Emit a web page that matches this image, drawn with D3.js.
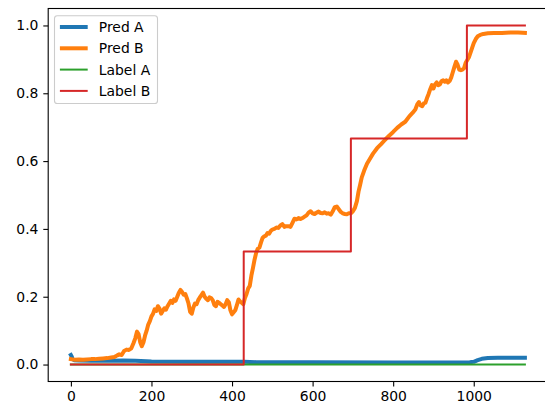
<!DOCTYPE html>
<html>
<head>
<meta charset="utf-8">
<script src="https://cdn.jsdelivr.net/npm/d3@7"></script>
<style>
  html, body { margin: 0; padding: 0; background: #fff; }
  svg { display: block; font-family: "DejaVu Sans", sans-serif; }
</style>
</head>
<body>
<svg id="chart" width="545" height="407"></svg>
<script>
// Prediction B (probability) sampled along the sequence index
const predBX = [0,10,20,30,40,50,60,70,80,90,100,108,115,120,126,132,138,144,150,155,160,164,168,172,176,180,184,188,192,196,200,204,208,212,216,220,224,228,232,236,240,244,248,252,256,260,264,268,272,276,280,284,288,292,296,300,304,308,312,316,320,324,328,332,336,340,344,348,352,356,360,364,368,372,376,380,384,388,392,396,400,404,408,412,416,420,424,428,432,436,440,444,448,452,456,460,464,468,472,476,480,484,488,492,496,500,505,510,515,520,525,530,535,540,545,550,555,560,565,570,575,580,585,590,595,600,605,610,615,620,625,630,635,640,645,650,655,660,665,670,675,680,685,690,695,700,705,710,714,718,722,728,735,742,750,760,770,780,790,800,810,820,830,840,848,855,860,864,868,872,876,880,884,888,892,896,900,904,908,912,916,920,924,928,932,936,940,944,948,952,956,960,964,968,972,976,980,984,988,992,996,1000,1005,1010,1016,1024,1035,1050,1070,1090,1110,1127];
const predBY = [0.016,0.014,0.015,0.014,0.015,0.016,0.016,0.017,0.018,0.019,0.021,0.022,0.027,0.030,0.028,0.040,0.044,0.043,0.048,0.062,0.078,0.097,0.090,0.066,0.054,0.065,0.085,0.100,0.118,0.128,0.142,0.150,0.163,0.158,0.172,0.165,0.150,0.158,0.166,0.162,0.172,0.180,0.188,0.182,0.192,0.188,0.200,0.212,0.220,0.214,0.206,0.208,0.195,0.180,0.155,0.150,0.168,0.180,0.178,0.190,0.198,0.205,0.212,0.200,0.194,0.190,0.198,0.196,0.190,0.176,0.172,0.185,0.182,0.178,0.174,0.170,0.178,0.190,0.184,0.160,0.148,0.154,0.160,0.175,0.192,0.186,0.182,0.178,0.196,0.208,0.224,0.232,0.262,0.285,0.310,0.330,0.342,0.345,0.360,0.374,0.378,0.380,0.388,0.386,0.394,0.398,0.400,0.404,0.403,0.410,0.414,0.406,0.408,0.408,0.406,0.418,0.430,0.428,0.432,0.429,0.432,0.436,0.440,0.448,0.452,0.446,0.444,0.448,0.451,0.447,0.446,0.449,0.445,0.446,0.442,0.452,0.464,0.466,0.458,0.450,0.446,0.444,0.443,0.446,0.446,0.452,0.462,0.482,0.510,0.530,0.552,0.572,0.592,0.606,0.622,0.638,0.650,0.663,0.675,0.686,0.698,0.708,0.716,0.732,0.742,0.752,0.768,0.774,0.764,0.762,0.770,0.772,0.786,0.798,0.812,0.824,0.814,0.826,0.832,0.824,0.826,0.836,0.838,0.834,0.838,0.832,0.836,0.846,0.862,0.878,0.893,0.884,0.870,0.868,0.870,0.874,0.890,0.898,0.906,0.920,0.934,0.948,0.960,0.968,0.972,0.975,0.977,0.978,0.978,0.979,0.979,0.978];

// Prediction A (probability)
const predAX = [0,2,4,8,20,50,100,130,160,200,300,400,430,460,600,800,950,990,1000,1010,1020,1035,1060,1127];
const predAY = [0.028,0.024,0.016,0.013,0.012,0.011,0.011,0.012,0.011,0.009,0.008,0.008,0.008,0.007,0.007,0.006,0.006,0.007,0.008,0.013,0.017,0.019,0.020,0.020];

// Label A is zero over the whole sequence
const labelAX = [0, 1127];
const labelAY = [0, 0];

// Label B is piecewise constant: start index of each level and its value
const labelBStart = [0, 429, 695, 983];
const labelBValue = [0, 1/3, 2/3, 1];
const lastIndex = 1127;

const xTicks = [0, 200, 400, 600, 800, 1000];
const yTicks = [0.0, 0.2, 0.4, 0.6, 0.8, 1.0];

const seriesNames = ["Pred A", "Pred B", "Label A", "Label B"];
const seriesColors = ["#1f77b4", "#ff7f0e", "#2ca02c", "#d62728"];
const seriesWidths = [4, 4, 2, 2];

// Plot frame
const plotLeft = 48.2, plotTop = 8.5, plotRight = 547.6, plotBottom = 381.5;
const fs = 13.9;

const svg = d3.select("#chart");

const xPad = 0.05 * lastIndex;
const x = d3.scaleLinear().domain([-xPad, lastIndex + xPad]).range([plotLeft, plotRight]);
const y = d3.scaleLinear().domain([-0.05, 1.05]).range([plotBottom, plotTop]);

const zip = (xs, ys) => xs.map((v, i) => [v, ys[i]]);

const labelBPts = [];
labelBStart.forEach((s, i) => {
  const e = i < labelBStart.length - 1 ? labelBStart[i + 1] : lastIndex;
  labelBPts.push([s, labelBValue[i]]);
  labelBPts.push([e, labelBValue[i]]);
});

const series = [
  zip(predAX, predAY),
  zip(predBX, predBY),
  zip(labelAX, labelAY),
  labelBPts
];

const line = d3.line().x(d => x(d[0])).y(d => y(d[1]));

series.forEach((pts, i) => {
  svg.append("path")
    .datum(pts)
    .attr("d", line)
    .attr("fill", "none")
    .attr("stroke", seriesColors[i])
    .attr("stroke-width", seriesWidths[i])
    .attr("stroke-linejoin", "round")
    .attr("stroke-linecap", "square");
});

// Axes
const xAxis = d3.axisBottom(x).tickValues(xTicks).tickSize(4.9).tickPadding(4.9).tickFormat(d3.format("d"));
const yAxis = d3.axisLeft(y).tickValues(yTicks).tickSize(4.9).tickPadding(4.9).tickFormat(d3.format(".1f"));

const gx = svg.append("g").attr("transform", `translate(0,${plotBottom})`).call(xAxis);
const gy = svg.append("g").attr("transform", `translate(${plotLeft},0)`).call(yAxis);

[gx, gy].forEach(g => {
  g.select(".domain").remove();
  g.selectAll(".tick line").attr("stroke", "#000").attr("stroke-width", 1.1);
  g.selectAll(".tick text")
    .attr("fill", "#000")
    .attr("font-size", fs)
    .attr("font-family", "DejaVu Sans, sans-serif");
});

// Spines
svg.append("rect")
  .attr("x", plotLeft).attr("y", plotTop)
  .attr("width", plotRight - plotLeft).attr("height", plotBottom - plotTop)
  .attr("fill", "none").attr("stroke", "#000").attr("stroke-width", 1.1);

// Legend
const lg = svg.append("g");
lg.append("rect")
  .attr("x", 54.5).attr("y", 15.7)
  .attr("width", 103).attr("height", 87.8)
  .attr("rx", 2.8).attr("ry", 2.8)
  .attr("fill", "#fff").attr("fill-opacity", 0.8)
  .attr("stroke", "#cccccc").attr("stroke-width", 1.1);

const rowY = [27, 48.3, 69.6, 90.9];
seriesNames.forEach((name, i) => {
  lg.append("line")
    .attr("x1", 59.9).attr("x2", 87.7)
    .attr("y1", rowY[i]).attr("y2", rowY[i])
    .attr("stroke", seriesColors[i])
    .attr("stroke-width", seriesWidths[i]);
  lg.append("text")
    .attr("x", 98.8).attr("y", rowY[i] + 5)
    .attr("font-size", fs)
    .attr("fill", "#000")
    .text(name);
});
</script>
</body>
</html>
